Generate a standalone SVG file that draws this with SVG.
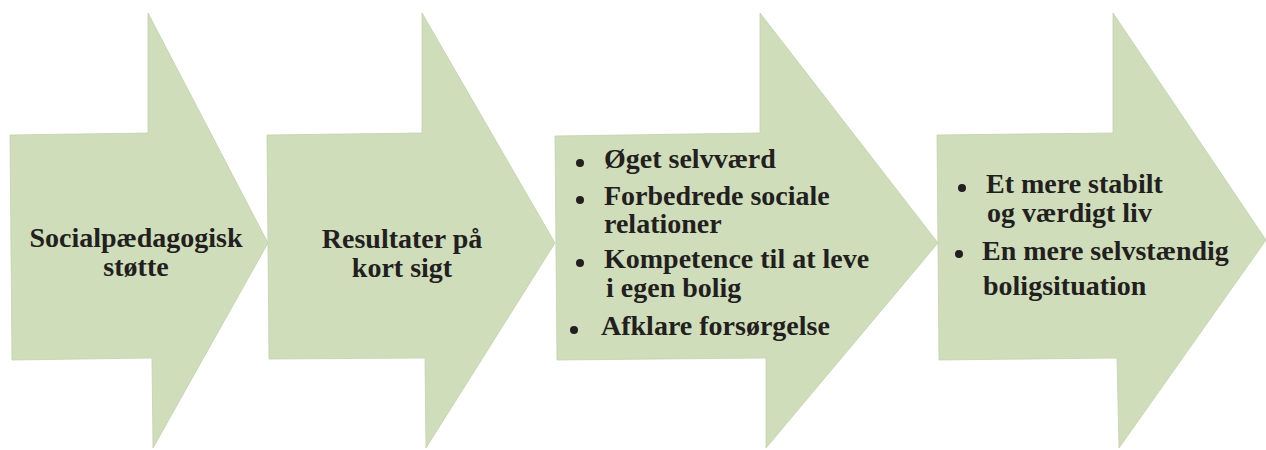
<svg xmlns="http://www.w3.org/2000/svg" width="1266" height="450" viewBox="0 0 1266 450">
<style>
.arrow{fill:#cfddba;stroke:#c3d2ac;stroke-width:0.8}
.t{font-family:"Liberation Serif","Times New Roman",serif;font-weight:bold;font-size:28px;fill:#231f20}
.c{text-anchor:middle}
.b{fill:#231f20}
</style>
<g id="connectors"></g>
<g id="node1">
<polygon class="arrow" points="10,135 148,133 148,13 268,243 153,448 152,358 12,360"/>
<text class="t c" x="136" y="247">Socialpædagogisk</text>
<text class="t c" x="136" y="276">støtte</text>
</g>
<g id="node2">
<polygon class="arrow" points="267,135 422,133 422,13 555,243 426,448 425,358 269,359"/>
<text class="t c" x="402" y="248">Resultater på</text>
<text class="t c" x="402" y="277">kort sigt</text>
</g>
<g id="node3">
<polygon class="arrow" points="555,136 760,133 760,13 938,243 766,448 766,358 557,360"/>
<circle class="b" cx="580" cy="163" r="4"/>
<text class="t" x="604" y="168">Øget selvværd</text>
<circle class="b" cx="580" cy="200" r="4"/>
<text class="t" x="604" y="205">Forbedrede sociale</text>
<text class="t" x="604" y="233">relationer</text>
<circle class="b" cx="580" cy="263" r="4"/>
<text class="t" x="604" y="268">Kompetence til at leve</text>
<text class="t" x="606" y="297">i egen bolig</text>
<circle class="b" cx="574" cy="330" r="4"/>
<text class="t" x="601" y="335">Afklare forsørgelse</text>
</g>
<g id="node4">
<polygon class="arrow" points="937,135 1113,133 1113,13 1266,240 1119,448 1117,358 939,360"/>
<circle class="b" cx="962" cy="188" r="4"/>
<text class="t" x="986" y="193">Et mere stabilt</text>
<text class="t" x="987" y="222">og værdigt liv</text>
<circle class="b" cx="959" cy="254" r="4"/>
<text class="t" x="982" y="260">En mere selvstændig</text>
<text class="t" x="983" y="295">boligsituation</text>
</g>
</svg>
